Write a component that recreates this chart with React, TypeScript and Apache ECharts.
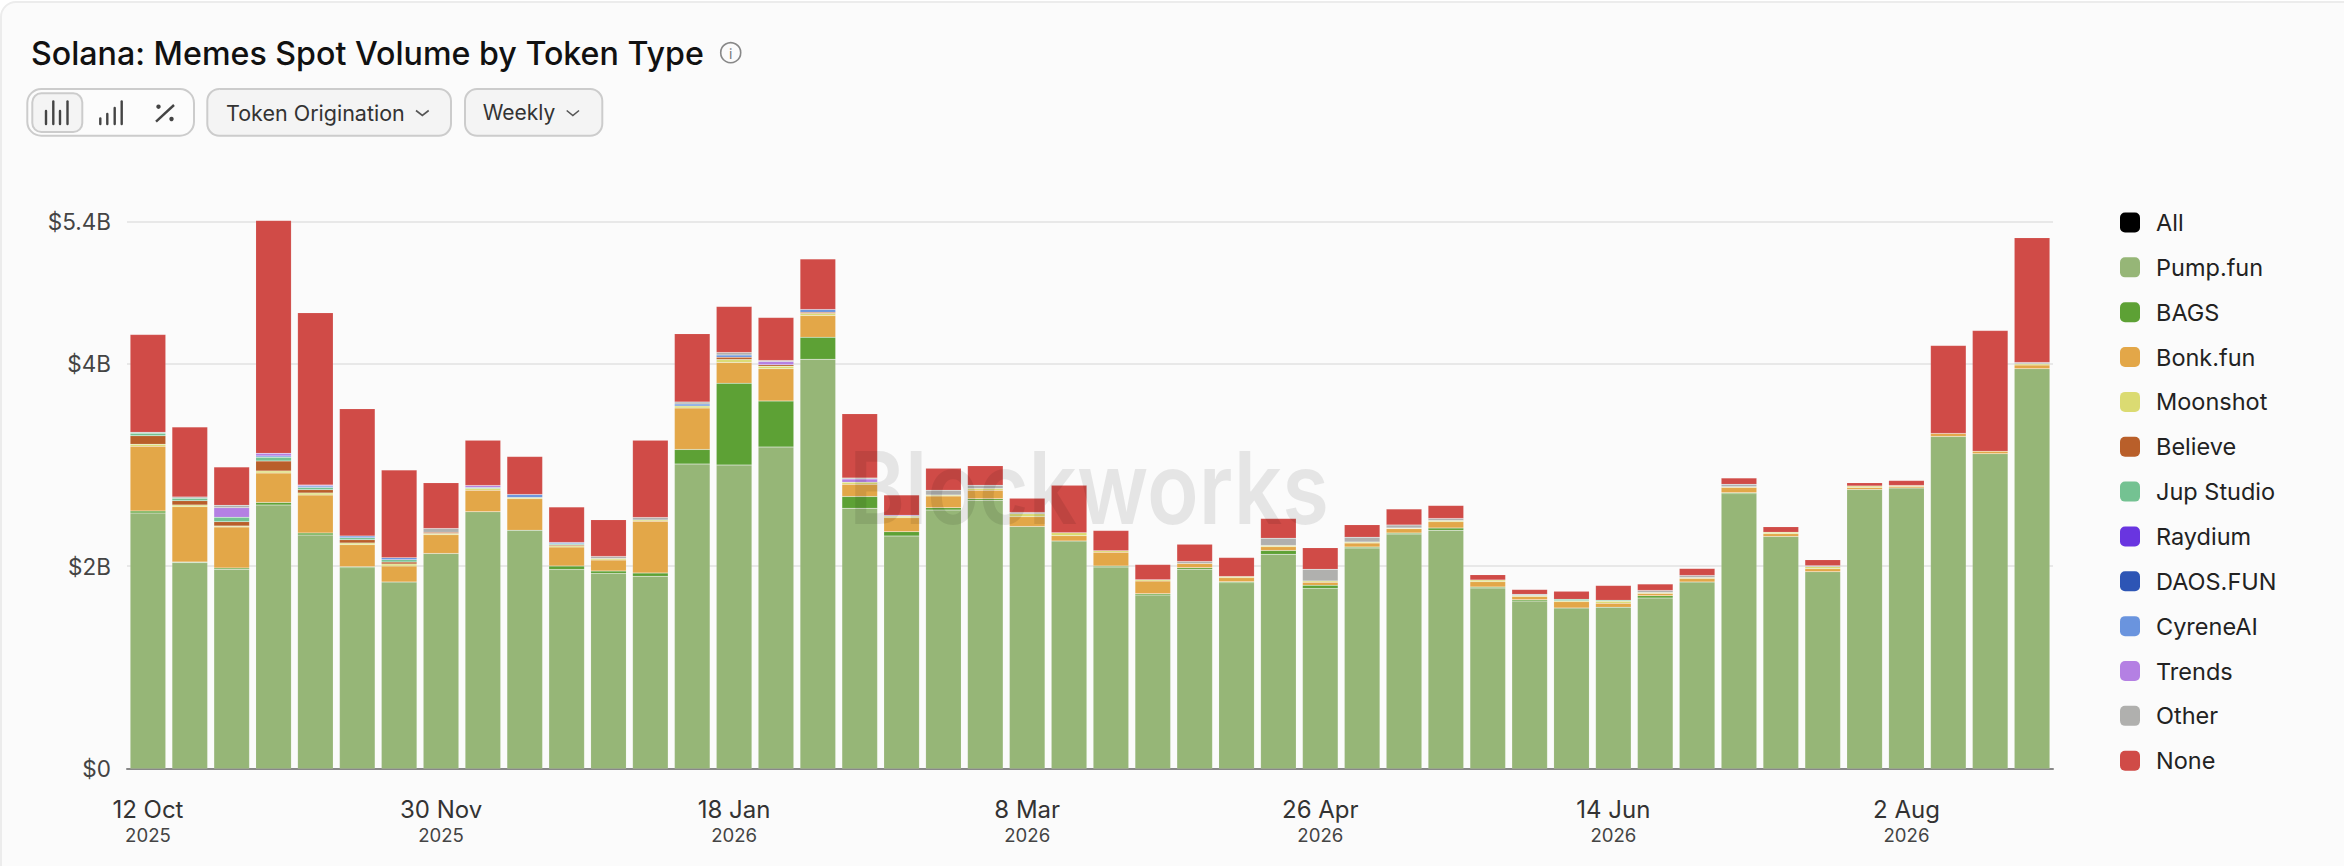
import React, { useEffect, useRef } from "react";
import * as echarts from "echarts";

const categories = [
  "12 Oct 2025","19 Oct 2025","26 Oct 2025","2 Nov 2025","9 Nov 2025","16 Nov 2025","23 Nov 2025","30 Nov 2025",
  "7 Dec 2025","14 Dec 2025","21 Dec 2025","28 Dec 2025","4 Jan 2026","11 Jan 2026","18 Jan 2026","25 Jan 2026",
  "1 Feb 2026","8 Feb 2026","15 Feb 2026","22 Feb 2026","1 Mar 2026","8 Mar 2026","15 Mar 2026","22 Mar 2026","29 Mar 2026",
  "5 Apr 2026","12 Apr 2026","19 Apr 2026","26 Apr 2026","3 May 2026","10 May 2026","17 May 2026","24 May 2026","31 May 2026",
  "7 Jun 2026","14 Jun 2026","21 Jun 2026","28 Jun 2026","5 Jul 2026","12 Jul 2026","19 Jul 2026","26 Jul 2026",
  "2 Aug 2026","9 Aug 2026","16 Aug 2026","23 Aug 2026",
];

const pumpFun = [2.524,2.034,1.968,2.603,2.306,1.984,1.842,2.125,2.536,2.355,1.967,1.928,1.901,3.007,2.997,3.175,4.043,2.572,2.296,2.553,2.651,2.392,2.247,1.99,1.714,1.97,1.835,2.116,1.78,2.178,2.316,2.355,1.783,1.655,1.586,1.595,1.684,1.842,2.714,2.293,1.944,2.757,2.77,3.28,3.109,3.949];
const bags = [0.02,0.007,0.013,0.026,0.02,0.01,0,0,0,0,0.033,0.023,0.03,0.145,0.809,0.454,0.217,0.115,0.043,0.023,0.013,0,0,0.01,0.013,0.013,0.01,0.039,0.03,0.01,0.01,0.02,0.01,0.013,0,0,0.023,0,0.01,0,0,0,0,0,0,0];
const bonkFun = [0.64,0.546,0.405,0.29,0.375,0.217,0.158,0.184,0.214,0.309,0.188,0.109,0.513,0.408,0.204,0.319,0.214,0.122,0.138,0.115,0.086,0.095,0.053,0.138,0.125,0.043,0.039,0.036,0.03,0.039,0.043,0.063,0.053,0.033,0.063,0.039,0.023,0.036,0.053,0.026,0.03,0.02,0.016,0.03,0.026,0.036];
const moonshot = [0.02,0.016,0.01,0.02,0.02,0.016,0.02,0.013,0.016,0.013,0.013,0.016,0.01,0.02,0.03,0.026,0.02,0.02,0.016,0.01,0.016,0.03,0.03,0.013,0.013,0,0.013,0.013,0.013,0.01,0.007,0.013,0.016,0.01,0.01,0.02,0.01,0.01,0.007,0.016,0.02,0.013,0.01,0,0,0.013];
const believe = [0.082,0.043,0.043,0.099,0.033,0.033,0.02,0.013,0,0,0.01,0,0,0,0.023,0.013,0.013,0,0,0,0,0,0,0,0,0,0,0,0,0,0,0,0,0,0,0,0,0,0,0,0,0,0,0,0,0];
const jupStudio = [0.026,0.023,0.043,0.036,0.023,0.02,0.023,0,0.01,0,0.01,0,0,0,0,0,0,0,0,0,0,0,0,0,0,0,0,0,0,0,0,0,0,0,0.013,0.01,0,0,0,0,0,0,0,0,0,0];
const raydium = [0,0,0,0,0,0,0,0,0,0,0,0,0,0,0,0,0,0,0,0,0,0,0,0,0,0,0,0,0,0,0,0,0,0,0,0,0,0,0,0,0,0,0,0,0,0];
const daosFun = [0,0,0,0,0,0,0,0,0,0,0,0,0,0,0,0,0,0,0,0,0,0,0,0,0,0,0,0,0,0,0,0,0,0,0,0,0,0,0,0,0,0,0,0,0,0];
const cyreneAI = [0,0,0,0.013,0.013,0.016,0.02,0,0,0.03,0.013,0,0,0.02,0.02,0,0.026,0,0,0,0,0,0,0,0,0,0,0,0,0,0,0,0,0,0,0,0,0,0,0,0,0,0,0,0,0];
const trends = [0,0,0.095,0.026,0.01,0,0,0,0.02,0,0,0,0,0,0,0.033,0,0.03,0.01,0,0,0,0,0,0,0,0,0,0,0,0,0,0,0,0,0,0,0,0,0,0,0,0,0,0,0];
const other = [0.01,0.013,0.023,0,0,0,0,0.036,0,0,0,0.02,0.026,0.02,0.026,0.01,0,0.01,0,0.049,0.033,0.013,0,0,0,0.02,0,0.072,0.115,0.049,0.03,0.02,0,0.01,0,0,0.02,0.02,0.023,0,0.01,0,0,0,0,0.013];
const none = [0.964,0.691,0.378,2.3,1.7,1.257,0.865,0.451,0.447,0.375,0.349,0.362,0.763,0.674,0.454,0.424,0.5,0.635,0.2,0.217,0.191,0.141,0.467,0.2,0.151,0.171,0.187,0.194,0.214,0.122,0.158,0.128,0.053,0.049,0.079,0.145,0.0625,0.069,0.0625,0.053,0.059,0.033,0.049,0.868,1.19,1.23];

const seriesNames = ["All","Pump.fun","BAGS","Bonk.fun","Moonshot","Believe","Jup Studio","Raydium","DAOS.FUN","CyreneAI","Trends","Other","None"];
const seriesColors = ["#000000","#96b677","#5da135","#e3a748","#dbdb72","#b95f2a","#74c292","#6935e0","#2d55b5","#6a94de","#b480e3","#b0b0ae","#d04b47"];
const seriesValues: number[][] = [[],pumpFun,bags,bonkFun,moonshot,believe,jupStudio,raydium,daosFun,cyreneAI,trends,other,none];

const tickLabels: Record<number, string> = { 0: "$0", 2: "$2B", 4: "$4B", 5.4: "$5.4B" };

const FONT = "Inter";
const INK = "#444444";
const EDGE = "#cccccc";

function rect(x: number, y: number, width: number, height: number, r: number, fill: string, stroke: string) {
  return { type: "rect", shape: { x, y, width, height, r }, style: { fill, stroke, lineWidth: 2 }, silent: true };
}
function bar(x: number, y1: number, y2: number) {
  return { type: "line", shape: { x1: x, y1, x2: x, y2 }, style: { stroke: INK, lineWidth: 2.4, lineCap: "round" }, silent: true };
}
function label(text: string, x: number, y: number, fontSize: number, fill: string, fontWeight: number = 400) {
  return { type: "text", x, y, silent: true, style: { text, fontSize, fontFamily: FONT, fontWeight, fill, verticalAlign: "middle", align: "left" } };
}
function chevron(x1: number, x2: number, y1: number, y2: number) {
  return { type: "polyline", shape: { points: [[x1, y1], [(x1 + x2) / 2, y2], [x2, y1]] }, style: { stroke: "#555555", lineWidth: 1.6, fill: "none" }, silent: true };
}

export default function App() {
  const ref = useRef<HTMLDivElement>(null);
  useEffect(() => {
    const chart = echarts.init(ref.current as HTMLDivElement, null, { renderer: "svg" });
    chart.setOption({
      animation: false,
      backgroundColor: "transparent",
      textStyle: { fontFamily: FONT },
      grid: { left: 127, top: 221.7, width: 1926, height: 547, containLabel: false },
      legend: {
        orient: "vertical",
        left: 2115,
        top: 205.5,
        itemWidth: 20,
        itemHeight: 20,
        itemGap: 20.85,
        icon: "roundRect",
        selectedMode: false,
        itemStyle: { borderWidth: 0 },
        textStyle: { fontFamily: FONT, fontSize: 23.5, color: "#222222", lineHeight: 23, padding: [0, 0, 0, 11] },
        data: seriesNames,
      },
      xAxis: {
        type: "category",
        data: categories,
        axisTick: { show: false },
        axisLine: { lineStyle: { color: "#888888", width: 2 } },
        axisLabel: {
          interval: 6,
          margin: 28,
          formatter: (v: string) => {
            const parts = v.split(" ");
            return `{a|${parts[0]} ${parts[1]}}\n{b|${parts[2]}}`;
          },
          rich: {
            a: { fontFamily: FONT, fontSize: 24, color: "#333333", lineHeight: 26 },
            b: { fontFamily: FONT, fontSize: 18.6, color: "#444444", lineHeight: 25 },
          },
        },
      },
      yAxis: {
        type: "value",
        min: 0,
        max: 5.4,
        interval: 2,
        axisLine: { show: false },
        axisTick: { show: false },
        splitLine: { lineStyle: { color: "#e8e8e8", width: 2 } },
        axisLabel: {
          margin: 16,
          fontFamily: FONT,
          fontSize: 22.5,
          color: INK,
          formatter: (v: number) => tickLabels[v] ?? "",
        },
      },
      series: seriesNames.map((name, i) => ({
        name,
        type: "bar",
        stack: "total",
        clip: false,
        barWidth: 35.6,
        data: seriesValues[i].map((v) => (v > 0 ? v : null)),
        itemStyle: { color: seriesColors[i], borderColor: "rgba(255,255,255,0.2)", borderWidth: 0.5 },
        emphasis: { disabled: true },
      })),
      graphic: [
        label("Solana: Memes Spot Volume by Token Type", 31, 53, 32.2, "#111111", 500),
        { type: "circle", shape: { cx: 730.7, cy: 52.7, r: 10 }, style: { fill: "none", stroke: "#888888", lineWidth: 1.6 }, silent: true },
        { type: "text", x: 730.7, y: 53, silent: true, style: { text: "i", fontSize: 14, fontFamily: FONT, fill: "#777777", align: "center", verticalAlign: "middle" } },

        rect(27.3, 89, 166.7, 46.7, 14, "#fcfcfc", EDGE),
        rect(32.3, 93.3, 50, 38.7, 9, "#f4f4f4", EDGE),
        bar(46, 111, 124), bar(53.3, 101.5, 124), bar(60, 111, 124), bar(67.5, 101.5, 124),
        bar(100.3, 118.5, 124), bar(107.3, 114, 124), bar(114.7, 108, 124), bar(121.7, 101.5, 124),
        { type: "line", shape: { x1: 156, y1: 121.7, x2: 174, y2: 105 }, style: { stroke: INK, lineWidth: 2.4 }, silent: true },
        { type: "circle", shape: { cx: 158.5, cy: 106.7, r: 2.2 }, style: { fill: INK }, silent: true },
        { type: "circle", shape: { cx: 171.5, cy: 119, r: 2.2 }, style: { fill: INK }, silent: true },

        rect(207.3, 89, 243.7, 46.7, 12, "#f4f4f4", EDGE),
        label("Token Origination", 226, 112.5, 21.5, "#333333"),
        chevron(416, 428.7, 110.5, 115.5),
        rect(465, 89, 137.3, 46.7, 12, "#f4f4f4", EDGE),
        label("Weekly", 482.7, 112.5, 21, "#333333"),
        chevron(566.7, 579, 110.5, 115.5),

        { type: "text", x: 849, y: 487, scaleX: 0.85, z: 100, silent: true, style: { text: "Blockworks", fontSize: 100, fontFamily: FONT, fontWeight: 600, fill: "rgba(0,0,0,0.085)", verticalAlign: "middle", align: "left" } },
      ],
    });
    return () => chart.dispose();
  }, []);

  return (
    <div style={{ position: "fixed", left: 0, top: 0, width: 2344, height: 866, background: "#ffffff", overflow: "hidden" }}>
      <div style={{ position: "absolute", left: 0, top: 1, width: 2400, height: 900, boxSizing: "border-box", background: "#fbfbfb", border: "2px solid #ececec", borderRadius: 16 }} />
      <div ref={ref} style={{ position: "absolute", left: 0, top: 0, width: 2344, height: 866 }} />
    </div>
  );
}
